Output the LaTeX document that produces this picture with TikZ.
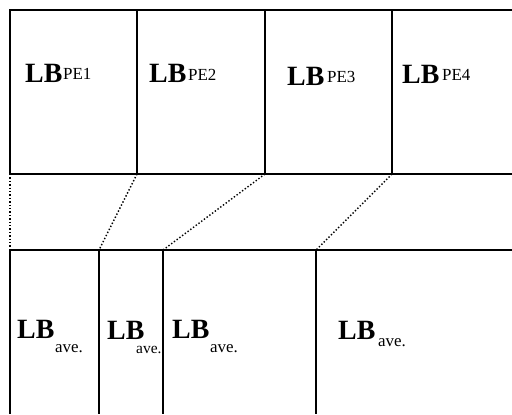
\documentclass[tikz,border=0pt]{standalone}
\usepackage{fontspec}
\setmainfont{Liberation Serif}
\begin{document}
\begin{tikzpicture}[x=1bp,y=-1bp,
  frame/.style={line width=1.1bp,black},
  link/.style={line width=1.4bp,dash pattern=on 1.4bp off 2bp},
  big/.style={inner sep=0pt,anchor=base west,text depth=0pt,font=\fontsize{28}{30}\selectfont\bfseries},
  sub/.style={inner sep=0pt,anchor=base west,font=\fontsize{17}{19}\selectfont}]
\useasboundingbox (0,0) rectangle (512,414);
% top row coordinates
\coordinate (t0) at (10,10);
\coordinate (t0b) at (10,174);
\coordinate (t1) at (137,10);
\coordinate (t1b) at (137,174);
\coordinate (t2) at (265,10);
\coordinate (t2b) at (265,174);
\coordinate (t3) at (392,10);
\coordinate (t3b) at (392,174);
\coordinate (tr) at (512,10);
\coordinate (trb) at (512,174);
% bottom row coordinates
\coordinate (b0) at (10,250);
\coordinate (b0b) at (10,414);
\coordinate (b1) at (99,250);
\coordinate (b1b) at (99,414);
\coordinate (b2) at (163,250);
\coordinate (b2b) at (163,414);
\coordinate (b3) at (316,250);
\coordinate (b3b) at (316,414);
\coordinate (br) at (512,250);
% frames
\draw[frame] (tr) -- (t0) -- (t0b) -- (trb);
\draw[frame] (t1) -- (t1b);
\draw[frame] (t2) -- (t2b);
\draw[frame] (t3) -- (t3b);
\draw[frame] (br) -- (b0) -- (b0b);
\draw[frame] (b1) -- (b1b);
\draw[frame] (b2) -- (b2b);
\draw[frame] (b3) -- (b3b);
% dotted links
\draw[link] (t0b) -- (b0);
\draw[link] (t1b) -- (b1);
\draw[link] (t2b) -- (b2);
\draw[link] (t3b) -- (b3);
% top labels
\node[big] (p1) at (25,82) {LB};
\node[sub] (p1s) at (63,79) {PE1};
\node[big] (p2) at (149,82) {LB};
\node[sub] (p2s) at (188,80) {PE2};
\node[big] (p3) at (287,85) {LB};
\node[sub] (p3s) at (327,82) {PE3};
\node[big] (p4) at (402,83) {LB};
\node[sub] (p4s) at (442,80) {PE4};
% bottom labels
\node[big] (a1) at (17,338) {LB};
\node[sub] (a1s) at (55,352) {ave.};
\node[big] (a2) at (107,339) {LB};
\node[sub,font=\fontsize{15.5}{17}\selectfont] (a2s) at (136,353) {ave.};
\node[big] (a3) at (172,338) {LB};
\node[sub] (a3s) at (210,352) {ave.};
\node[big] (a4) at (338,339) {LB};
\node[sub] (a4s) at (378,346) {ave.};
\end{tikzpicture}
\end{document}
